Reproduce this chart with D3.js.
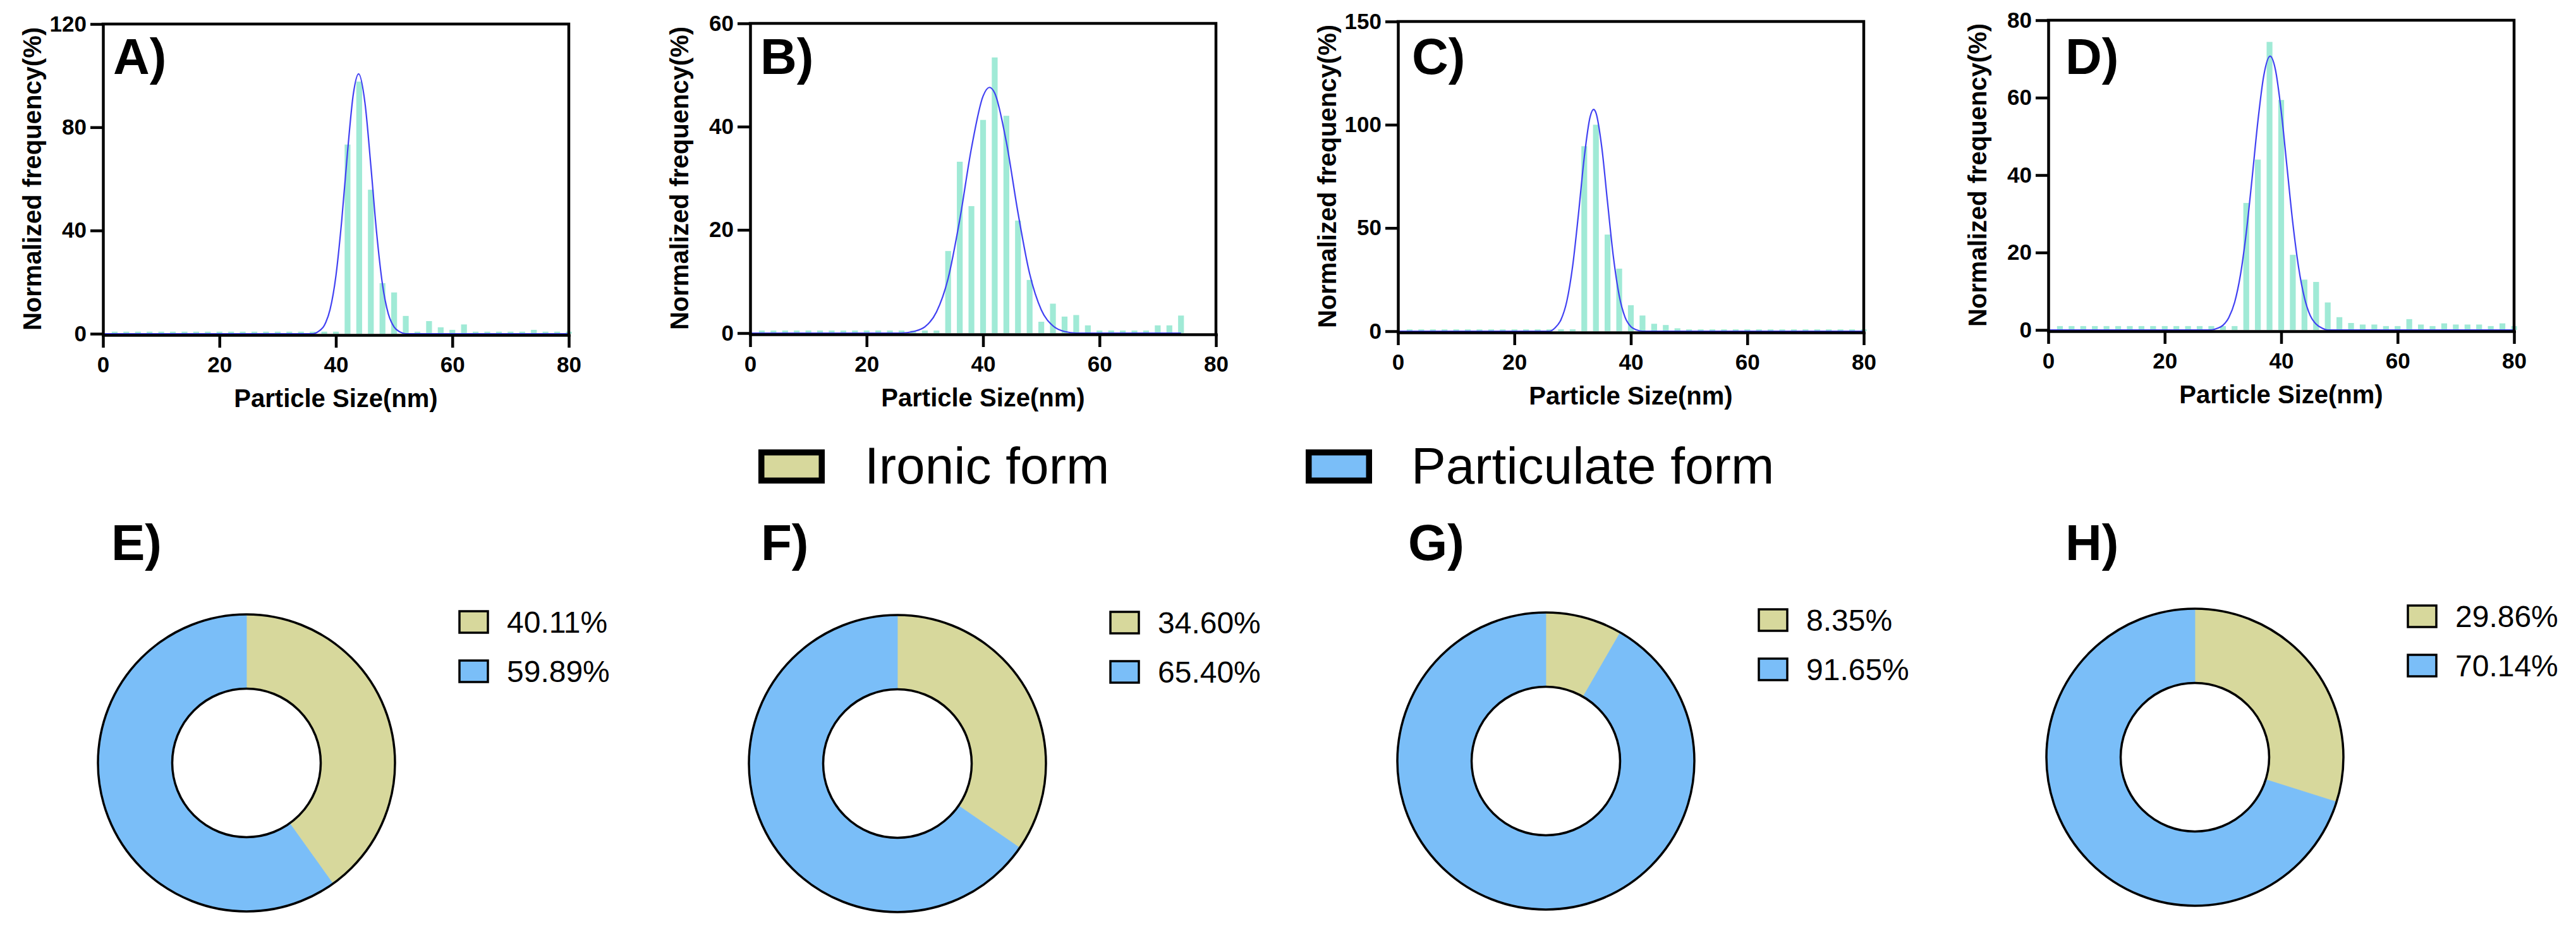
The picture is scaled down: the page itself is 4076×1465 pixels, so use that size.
<!DOCTYPE html>
<html>
<head>
<meta charset="utf-8">
<script src="https://cdn.jsdelivr.net/npm/d3@7"></script>
<style>
  body { margin: 0; background: #fff; }
  svg { display: block; }
  text { font-family: "Liberation Sans", Arial, sans-serif; fill: #000; }
</style>
</head>
<body>
<div id="chart"></div>
<script>
// ---- data ----

// histogram bin centres (nm), one bar per 2 nm
var binSizes = [2, 4, 6, 8, 10, 12, 14, 16, 18, 20, 22, 24, 26, 28, 30, 32, 34, 36, 38, 40,
                42, 44, 46, 48, 50, 52, 54, 56, 58, 60, 62, 64, 66, 68, 70, 72, 74, 76, 78, 80];

// normalized frequency (%) per bin
var freqA = [0.8, 0.8, 0.8, 0.8, 0.8, 0.8, 0.8, 0.8, 0.8, 0.8, 0.8, 0.8, 0.8, 0.8, 0.8, 0.8, 0.8, 0.8, 0.8, 0.8,
             73.3, 97.7, 55.8, 19.6, 16.0, 6.9, 0.8, 4.9, 2.5, 1.5, 3.6, 0.8, 0.8, 0.8, 0.8, 0.8, 1.5, 0.8, 0.8, 0.8];
var freqB = [0.5, 0.5, 0.5, 0.5, 0.5, 0.5, 0.5, 0.5, 0.5, 0.5, 0.5, 0.5, 0.5, 0.5, 0.5, 0.5, 15.9, 33.2, 24.6, 41.3,
             53.4, 42.1, 21.8, 10.3, 2.2, 5.7, 3.2, 3.5, 1.5, 0.5, 0.5, 0.5, 0.5, 0.5, 1.5, 1.5, 3.4, null, null, null];
var freqC = [0.9, 0.9, 0.9, 0.9, 0.9, 0.9, 0.9, 0.9, 0.9, 0.9, 0.9, 0.9, 0.9, 0.9, 0.9, 89.6, 100, 46.8, 30.3, 12.6,
             7.6, 3.6, 3.0, 1.4, 0.9, 0.9, 0.9, 0.9, 0.9, 0.9, 0.9, 0.9, 0.9, 0.9, 0.9, 0.9, 0.9, 0.9, 0.9, 0.9];
var freqD = [1.0, 1.0, 1.0, 1.0, 1.0, 1.0, 1.0, 1.0, 1.0, 1.0, 1.0, 1.0, 1.0, 1.0, 1.0, 1.0, 32.8, 44.0, 74.4, 59.4,
             19.4, 13.0, 12.4, 7.1, 3.3, 1.8, 1.4, 1.4, 1.0, 1.0, 2.8, 1.4, 1.0, 1.7, 1.4, 1.4, 1.4, 1.0, 1.7, 1.0];

// fitted curve, points [size, freq]
var fitA = [[0, 0], [36, 0], [37, 0.9], [38, 3.2], [39, 9.4], [40, 22.4], [41, 43.9], [42, 70.5], [43, 93],
            [43.9, 100.7], [45, 89.3], [46, 65.1], [47, 39], [48, 19.1], [49, 7.7], [50, 2.6], [51, 0.7], [52, 0], [80, 0]];
var fitB = [[0, 0], [26, 0], [28, 0.3], [30, 1.2], [32, 4.1], [34, 10.6], [36, 22], [38, 35.8], [40, 45.9],
            [41.1, 47.6], [42, 46.5], [44, 37], [46, 23.3], [48, 11.5], [50, 4.5], [52, 1.4], [54, 0.3], [56, 0], [74, 0]];
var fitC = [[0, 0], [26, 0], [27, 1.7], [28, 5.6], [29, 14.5], [30, 31.5], [31, 56.7], [32, 84.3], [33, 103.8],
            [33.6, 107.4], [34, 105.8], [35, 89.2], [36, 62.3], [37, 36], [38, 17.2], [39, 6.8], [40, 2.2], [41, 0.6], [42, 0], [80, 0]];
var fitD = [[0, 0], [28, 0], [29, 0.4], [30, 1.2], [31, 3.2], [32, 7.1], [33, 14.2], [34, 25.1], [35, 39.1], [36, 53.9],
            [37, 65.6], [38.1, 70.7], [39, 67.3], [40, 56.6], [41, 42.1], [42, 27.6], [43, 16.1], [44, 8.3], [45, 3.7],
            [46, 1.5], [47, 0.5], [48, 0], [80, 0]];

var histLabels = ["A)", "B)", "C)", "D)"];
var xTicks = [0, 20, 40, 60, 80];
var yTicks = [[0, 40, 80, 120], [0, 20, 40, 60], [0, 50, 100, 150], [0, 20, 40, 60, 80]];

// ironic vs particulate share (%)
var ironicShare = [40.11, 34.60, 8.35, 29.86];
var particulateShare = [59.89, 65.40, 91.65, 70.14];
var pieLabels = ["E)", "F)", "G)", "H)"];
var seriesNames = ["Ironic form", "Particulate form"];

// ---- layout / style ----
var W = 4076, H = 1465;
var barColor = "#a0ead6", fitColor = "#4141f2";
var ironicColor = "#d7d89c", partColor = "#7abef8";
var panelLeft = [163, 1187, 2212, 3241];
var panelTop = [38, 37, 34, 32];
var labelX = [179, 1203, 2234, 3268];
var plotW = 737, plotH = 490;
var pieCx = [390, 1420, 2446, 3473];
var pieCy = [1207, 1208, 1204, 1198];
var pieLabelX = [176, 1204, 2228, 3268];
var rOuter = 235, rInner = 117.5;

var svg = d3.select("#chart").append("svg")
    .attr("width", W)
    .attr("height", H);

svg.append("rect").attr("width", W).attr("height", H).attr("fill", "#fff");

var freqs = [freqA, freqB, freqC, freqD];
var fits = [fitA, fitB, fitC, fitD];

freqs.forEach(function(freq, i) {
    var g = svg.append("g")
        .attr("transform", "translate(" + panelLeft[i] + "," + panelTop[i] + ")");

    var yMax = yTicks[i][yTicks[i].length - 1];
    var x = d3.scaleLinear().domain([0, 80]).range([0, plotW]);
    var y = d3.scaleLinear().domain([0, yMax]).range([plotH, 0]);

    // bars
    var bins = binSizes.map(function(s, j) { return {size: s, value: freq[j]}; })
        .filter(function(d) { return d.value != null; });

    g.selectAll(".bar")
        .data(bins)
        .enter()
        .append("rect")
        .attr("class", "bar")
        .attr("x", function(d) { return x(d.size - 0.5); })
        .attr("width", x(1) - x(0))
        .attr("y", function(d) { return y(d.value); })
        .attr("height", function(d) { return plotH - y(d.value); })
        .attr("fill", barColor);

    // fitted curve
    var line = d3.line()
        .x(function(d) { return x(d[0]); })
        .y(function(d) { return y(d[1]); })
        .curve(d3.curveMonotoneX);

    g.append("path")
        .datum(fits[i])
        .attr("d", line)
        .attr("fill", "none")
        .attr("stroke", fitColor)
        .attr("stroke-width", 2.2);

    // axes
    var xAxis = d3.axisBottom(x).tickValues(xTicks).tickSize(20).tickSizeOuter(0).tickPadding(14);
    var yAxis = d3.axisLeft(y).tickValues(yTicks[i]).tickSize(20).tickSizeOuter(0).tickPadding(6);

    var gx = g.append("g")
        .attr("transform", "translate(0," + (plotH + 2) + ")")
        .call(xAxis);
    var gy = g.append("g").call(yAxis);

    [gx, gy].forEach(function(a) {
        a.select(".domain").attr("stroke", "#000").attr("stroke-width", 4.5).attr("stroke-linecap", "square");
        a.selectAll(".tick line").attr("stroke", "#000").attr("stroke-width", 4.5);
        a.selectAll(".tick text")
            .attr("fill", "#000")
            .style("font-family", "'Liberation Sans', Arial, sans-serif")
            .style("font-size", "35px")
            .style("font-weight", "bold");
    });

    // top and right frame
    g.append("path")
        .attr("d", "M0,0H" + plotW + "V" + (plotH + 2))
        .attr("fill", "none")
        .attr("stroke", "#000")
        .attr("stroke-width", 4.5)
        .attr("stroke-linecap", "square");

    // titles
    g.append("text")
        .attr("x", plotW / 2)
        .attr("y", plotH + 116)
        .attr("text-anchor", "middle")
        .style("font-size", "40px")
        .style("font-weight", "bold")
        .text("Particle Size(nm)");

    g.append("text")
        .attr("transform", "translate(-98," + (plotH / 2) + ") rotate(-90)")
        .attr("text-anchor", "middle")
        .style("font-size", "40px")
        .style("font-weight", "bold")
        .text("Normalized frequency(%)");

    svg.append("text")
        .attr("x", labelX[i])
        .attr("y", 117)
        .style("font-size", "80px")
        .style("font-weight", "bold")
        .text(histLabels[i]);
});

// ---- shared legend ----
var legend = svg.append("g");
var legendBoxX = [1204.75, 2070.75];
var legendTextX = [1368, 2233];
[ironicColor, partColor].forEach(function(c, k) {
    legend.append("rect")
        .attr("x", legendBoxX[k])
        .attr("y", 715.75)
        .attr("width", 95.5)
        .attr("height", 44.5)
        .attr("fill", c)
        .attr("stroke", "#000")
        .attr("stroke-width", 9.5);
    legend.append("text")
        .attr("x", legendTextX[k])
        .attr("y", 765)
        .style("font-size", "82px")
        .text(seriesNames[k]);
});

// ---- donut charts ----
var pie = d3.pie().sort(null).value(function(d) { return d; });
var arc = d3.arc().innerRadius(rInner).outerRadius(rOuter);
var fmt = d3.format(".2f");

ironicShare.forEach(function(v, i) {
    var values = [v, particulateShare[i]];
    var g = svg.append("g")
        .attr("transform", "translate(" + pieCx[i] + "," + pieCy[i] + ")");

    g.selectAll(".slice")
        .data(pie(values))
        .enter()
        .append("path")
        .attr("class", "slice")
        .attr("d", arc)
        .attr("fill", function(d, k) { return k == 0 ? ironicColor : partColor; })
        .attr("stroke", function(d, k) { return k == 0 ? ironicColor : partColor; })
        .attr("stroke-width", 0.8);

    [rOuter, rInner].forEach(function(r) {
        g.append("circle")
            .attr("r", r)
            .attr("fill", "none")
            .attr("stroke", "#000")
            .attr("stroke-width", 3.5);
    });

    // legend beside each donut
    values.forEach(function(val, k) {
        var top = -240 + k * 78;
        g.append("rect")
            .attr("x", 337)
            .attr("y", top)
            .attr("width", 45)
            .attr("height", 34)
            .attr("fill", k == 0 ? ironicColor : partColor)
            .attr("stroke", "#000")
            .attr("stroke-width", 3.5);
        g.append("text")
            .attr("x", 412)
            .attr("y", top + 34)
            .style("font-size", "48px")
            .text(fmt(val) + "%");
    });

    svg.append("text")
        .attr("x", pieLabelX[i])
        .attr("y", 886)
        .style("font-size", "80px")
        .style("font-weight", "bold")
        .text(pieLabels[i]);
});
</script>
</body>
</html>
